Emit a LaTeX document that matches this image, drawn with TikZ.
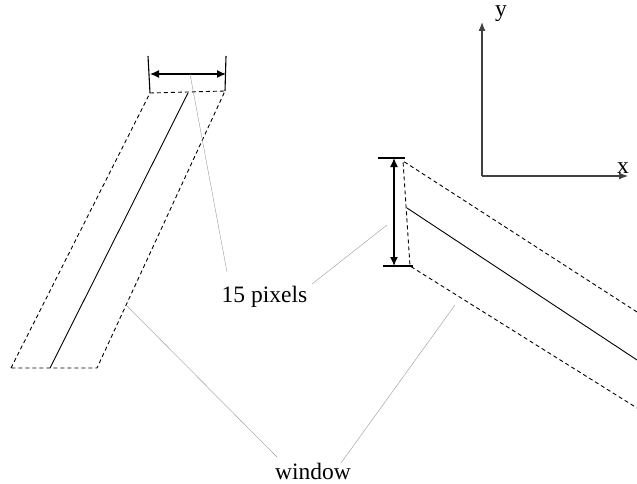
\documentclass[tikz,border=0pt]{standalone}
\usepackage{fontspec}
\setmainfont{Liberation Serif}
\usetikzlibrary{arrows.meta,positioning}

\begin{document}
\begin{tikzpicture}[x=1pt, y=-1pt,
    winedge/.style={line width=0.9pt, dash pattern=on 4pt off 3pt},
    centreline/.style={line width=0.9pt},
    dimline/.style={line width=1.1pt},
    dimarrow/.style={line width=1.4pt, {Latex[length=9pt,width=8pt]}-{Latex[length=9pt,width=8pt]}},
    axisline/.style={line width=1.2pt, black!75, -{Latex[length=9pt,width=7pt]}},
    leader/.style={line width=0.4pt, black!40},
    lbl/.style={font=\fontsize{23.5}{27}\selectfont, inner sep=0pt, anchor=base}]
  \useasboundingbox (0,0) rectangle (637,484);

  % left window
  \coordinate (lTL) at (150,93);
  \coordinate (lTR) at (225,91);
  \coordinate (lBL) at (11,368);
  \coordinate (lBR) at (97,368);
  \coordinate (lCT) at (188,93);
  \coordinate (lCB) at (50,368);
  \draw[winedge] (lBL) -- (lTL) -- (lTR) -- (lBR) -- cycle;
  \draw[centreline] (lCT) -- (lCB);
  \coordinate (lDL) at (148,56);
  \coordinate (lDR) at (226,56);
  \coordinate (lAL) at (150,74);
  \coordinate (lAR) at (226,74);
  \draw[dimline] (lDL) -- (lTL);
  \draw[dimline] (lDR) -- (lTR);
  \draw[dimarrow] (lAL) -- (lAR);

  % right window
  \coordinate (rTL) at (403,161);
  \coordinate (rBL) at (410,266);
  \coordinate (rTE) at (637,312);
  \coordinate (rBE) at (637,408);
  \coordinate (rCL) at (407,208);
  \coordinate (rCE) at (637,360);
  \draw[winedge] (rTE) -- (rTL) -- (rBL) -- (rBE);
  \draw[centreline] (rCL) -- (rCE);
  \coordinate (rDT1) at (378,158);
  \coordinate (rDT2) at (405,158);
  \coordinate (rDB1) at (383,266);
  \coordinate (rDB2) at (413,266);
  \coordinate (rAT) at (394,158);
  \coordinate (rAB) at (394,266);
  \draw[dimline] (rDT1) -- (rDT2);
  \draw[dimline] (rDB1) -- (rDB2);
  \draw[dimarrow] (rAT) -- (rAB);

  % axes
  \coordinate (org) at (482,176);
  \coordinate (yend) at (482,22);
  \coordinate (xend) at (628,176);
  \draw[axisline] (org) -- (yend);
  \draw[axisline] (org) -- (xend);
  \node[lbl] (ylab) at (501,17) {y};
  \node[lbl] (xlab) at (623,173) {x};

  % labels and leaders
  \node[lbl] (pix) at (264.5,302) {15 pixels};
  \node[lbl] (win) at (313,479) {window};
  \coordinate (pixL) at (227,272);
  \coordinate (pixR) at (312,284);
  \coordinate (lAM) at (190,74);
  \coordinate (rAM) at (387,225);
  \draw[leader] (pixL) -- (lAM);
  \draw[leader] (pixR) -- (rAM);
  \coordinate (winL) at (277,457);
  \coordinate (winR) at (341,463);
  \coordinate (lWE) at (127,306);
  \coordinate (rWE) at (455,305);
  \draw[leader] (winL) -- (lWE);
  \draw[leader] (winR) -- (rWE);
\end{tikzpicture}
\end{document}
